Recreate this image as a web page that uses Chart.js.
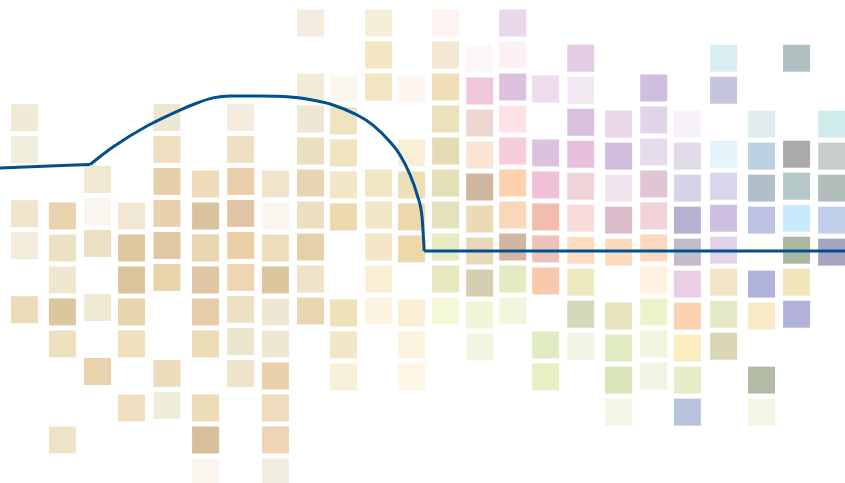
<!DOCTYPE html>
<html>
<head>
<meta charset="utf-8">
<script src="https://cdn.jsdelivr.net/npm/chart.js@4.4.1/dist/chart.umd.min.js"></script>
<style>
  html, body { margin: 0; padding: 0; background: #fff; }
  #wrap { width: 845px; height: 483px; position: relative; }
</style>
</head>
<body>
<div id="wrap"><canvas id="chart"></canvas></div>
<script>
// x value of each column and the small vertical shift of its cells
const columnPos = [0, 1.08, 2.08, 3.05, 4.06, 5.16, 6.16, 7.15, 8.15, 9.09, 10.09, 11.03,
    12.0, 12.97, 13.91, 14.85, 15.85, 16.93, 17.93, 18.89, 19.92, 21.0, 22.0, 23.0];
const columnShift = [-0.04, 0.03, -0.11, 0.03, -0.05, 0.03, -0.05, 0.03, 0, 0.06, 0, 0.06,
    0, 0.125, 0, 0.06, 0.1, 0.16, 0.03, 0.16, 0.1, 0.16, 0.1, 0.16];

// rows that hold a cell, column by column
const cellRows = [
    [3, 4, 6, 7, 9],
    [6, 7, 8, 9, 10, 13],
    [5, 6, 7, 9, 11],
    [6, 7, 8, 9, 10, 12],
    [3, 4, 5, 6, 7, 8, 11, 12],
    [5, 6, 7, 8, 9, 10, 12, 13, 14],
    [3, 4, 5, 6, 7, 8, 9, 10, 11],
    [5, 6, 7, 8, 9, 10, 11, 12, 13, 14],
    [0, 2, 3, 4, 5, 6, 7, 8, 9],
    [2, 3, 4, 5, 6, 9, 10, 11],
    [0, 1, 2, 5, 6, 7, 8, 9],
    [2, 4, 5, 6, 7, 9, 10, 11],
    [0, 1, 2, 3, 4, 5, 6, 7, 8, 9],
    [1, 2, 3, 4, 5, 6, 7, 8, 9, 10],
    [0, 1, 2, 3, 4, 5, 6, 7, 8, 9],
    [2, 4, 5, 6, 7, 8, 10, 11],
    [1, 2, 3, 4, 5, 6, 7, 8, 9, 10],
    [3, 4, 5, 6, 7, 9, 10, 11, 12],
    [2, 3, 4, 5, 6, 7, 8, 9, 10, 11],
    [3, 4, 5, 6, 7, 8, 9, 10, 11, 12],
    [1, 2, 4, 5, 6, 7, 8, 9, 10],
    [3, 4, 5, 6, 7, 8, 9, 11, 12],
    [1, 4, 5, 6, 7, 8, 9],
    [3, 4, 5, 6, 7]
];

const cellColors = [
    ['#f1e9d6', '#f1eddc', '#f0e4cc', '#f2ecdd', '#ecdbb8'],
    ['#e8d3ae', '#ebe2c3', '#eee7d2', '#dcc69f', '#eedfbf', '#eee3c8'],
    ['#efe8d2', '#f8f6ee', '#ebe0c1', '#eeead3', '#e9d3ae'],
    ['#f0e8d5', '#dec8a0', '#dcc59d', '#e8d4ad', '#eedfbf', '#eedfc1'],
    ['#efe6d1', '#efdfc0', '#e5cfa8', '#e8d2ad', '#dfc8a3', '#e8d5ab', '#ecdcb9', '#f0ecda'],
    ['#eedbbb', '#d8c39d', '#e8d7b0', '#e1c6a5', '#e8cda9', '#ebdcb6', '#ebdcb7', '#d8bf9b', '#f8f6ee'],
    ['#f3ecdf', '#efdfc2', '#e9d0ab', '#e1c6a5', '#e9cea8', '#eed6b3', '#eddfc3', '#ece5cd', '#eee3cb'],
    ['#f0e4cc', '#f8f6ef', '#eedebb', '#dcc69e', '#eee7d3', '#eee8d2', '#ebd1ab', '#efdcbf', '#efd5b3', '#f2ede1'],
    ['#f3ecdf', '#f1ebda', '#eee7d5', '#eadfbf', '#e9d4b2', '#ebdfbf', '#e6d2aa', '#eee2c9', '#e8d6b0'],
    ['#faf7ee', '#f0e4c0', '#f0e3c0', '#f2e7c6', '#ecdaae', '#eee2bb', '#f2e8c8', '#f7efd9'],
    ['#f5efd8', '#f4e6c3', '#f3e5c2', '#f1e6c3', '#f2e7c6', '#f3e7c7', '#faf0d6', '#fdf4e4'],
    ['#fdf5ef', '#f9eed7', '#efdfb6', '#edd8ac', '#edd8aa', '#f9efd6', '#fbf3df', '#fdf6e7'],
    ['#fdf4f1', '#f4e7d4', '#f0deb8', '#e9e2bc', '#e4dbb4', '#e3dfb9', '#e4e2bd', '#e6ebc4', '#e8e8c0', '#f6f8da'],
    ['#fcf6f8', '#efc7d9', '#edd8d1', '#f8e5d3', '#d1b6a0', '#eadbb6', '#e8d8b7', '#d4cfb0', '#eff5d7', '#f2f6e0'],
    ['#e8d8e9', '#fcf1f7', '#dcc2df', '#fde3e5', '#f7cddb', '#fdd1ad', '#f9d8b9', '#d2b6a0', '#e5ebc1', '#f2f6dd'],
    ['#ecdcec', '#dcc2df', '#f0c0d4', '#f2bcae', '#ecc3b8', '#fac8ac', '#e2ecc3', '#e8efc4'],
    ['#e2cce3', '#f2eaf3', '#d8c1de', '#e6c0db', '#eed4d9', '#f9dcd9', '#fddcc1', '#eeeac0', '#d4d9bb', '#eff4e4'],
    ['#e8d8ea', '#d1bedd', '#f0e4ee', '#dbbccb', '#fddbbe', '#e7e3bf', '#e1ecc1', '#d9e4b9', '#f2f6e6'],
    ['#cfbedd', '#e0d5e9', '#e5dcec', '#dfc6d2', '#f0d3d8', '#fed9bf', '#fff2e2', '#eff3cc', '#eff5e1', '#eff5e2'],
    ['#f7f1f8', '#e2dce8', '#d8d2e9', '#b8b0d1', '#c4bccb', '#e8cfe4', '#fcd1af', '#fcedc0', '#e7ecc8', '#b9c3de'],
    ['#d8eef0', '#c5c6de', '#e5f4fb', '#d9d6eb', '#cdc0e0', '#e0d3ea', '#f2e4c7', '#e5e8c7', '#d9d6b4'],
    ['#e0eced', '#bcd0e4', '#b1bfcb', '#bcc3e3', '#fefef8', '#b0b2d9', '#f7eac4', '#b2bba6', '#f2f6e4'],
    ['#b0bfbf', '#acaaab', '#b6c8c5', '#c9eafa', '#abb8a0', '#f1e5bc', '#b2b2da'],
    ['#cfeceb', '#c9cccd', '#b0bdbb', '#c2cfea', '#a6a4c0']
];

// the curve across the grid
const lineX = [-0.7, 1.87, 2.52, 3.49, 4.43, 4.92, 5.37, 5.86, 6.71, 7.57, 8.05, 8.71,
    9.48, 9.93, 10.42, 10.7, 10.99, 11.19, 11.33, 11.39, 23.4];
const lineY = [4.53, 4.42, 3.875, 3.22, 2.72, 2.5, 2.34, 2.28, 2.28, 2.31, 2.375, 2.53,
    2.875, 3.19, 3.72, 4.125, 4.75, 5.375, 6.09, 7.125, 7.125];
const lineBends = [1, 19]; // sharp corners

// build the cells
const cells = [];
const colors = [];
cellRows.forEach((rows, c) => {
    rows.forEach((r, k) => {
        cells.push({ x: columnPos[c], y: r + columnShift[c] });
        colors.push(cellColors[c][k]);
    });
});

// split the curve at its corners
const points = lineX.map((x, i) => ({ x, y: lineY[i] }));
const cuts = [0, ...lineBends, points.length - 1];
const lineSets = [];
for (let i = 0; i < cuts.length - 1; i++) {
    lineSets.push({
        data: points.slice(cuts[i], cuts[i + 1] + 1),
        showLine: true,
        borderColor: '#00508f',
        borderWidth: 3,
        cubicInterpolationMode: 'monotone',
        pointRadius: 0,
        order: 0
    });
}

const ctx = document.getElementById('chart').getContext('2d');
new Chart(ctx, {
    type: 'scatter',
    data: {
        datasets: [
            ...lineSets,
            {
                data: cells,
                backgroundColor: colors,
                borderWidth: 0,
                pointStyle: 'rect',
                pointRadius: 27 / Math.SQRT2,
                pointHoverRadius: 27 / Math.SQRT2,
                order: 1
            }
        ]
    },
    options: {
        responsive: true,
        maintainAspectRatio: false,
        animation: false,
        layout: { padding: 0, autoPadding: false },
        plugins: {
            legend: { display: false },
            tooltip: { enabled: false }
        },
        scales: {
            x: { type: 'linear', display: false, min: -0.698, max: 23.38 },
            y: { type: 'linear', display: false, reverse: true, min: -0.71875, max: 14.375 }
        }
    }
});
</script>
</body>
</html>
